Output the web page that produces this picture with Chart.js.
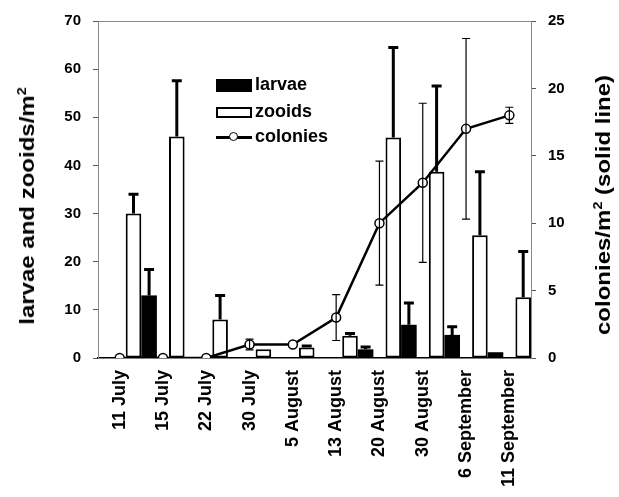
<!DOCTYPE html>
<html>
<head>
<meta charset="utf-8">
<title>Larvae, zooids and colonies per m2</title>
<script src="https://cdn.jsdelivr.net/npm/chart.js@4.4.1/dist/chart.umd.min.js"></script>
<style>
  body { margin: 0; background: #fff; }
  #wrap { position: relative; width: 619px; height: 497px; font-family: 'Liberation Sans', Arial, sans-serif; font-weight: bold; color: #000; }
  #wrap canvas { position: absolute; left: 0; top: 0; }
  .ytitle { position: absolute; white-space: nowrap; font-size: 20px; line-height: 22px; transform: translate(-50%, -50%) rotate(-90deg) scaleX(1.2); }
  .ytitle sup { font-size: 0.6em; vertical-align: 0.7em; line-height: 0; }
  .leg { position: absolute; left: 216px; height: 24px; line-height: 24px; font-size: 18px; white-space: nowrap; }
  .sw { display: inline-block; width: 36px; vertical-align: middle; margin-right: 3px; position: relative; box-sizing: border-box; }
</style>
</head>
<body>
<div id="wrap">
  <canvas id="chart"></canvas>
  <div class="ytitle" style="left:27px; top:206px">larvae and zooids/m<sup>2</sup></div>
  <div class="ytitle" style="left:603px; top:205px">colonies/m<sup>2</sup> (solid line)</div>
  <div class="leg" style="top:72px"><span class="sw" style="height:13px; background:#000"></span>larvae</div>
  <div class="leg" style="top:99px"><span class="sw" style="height:11px; border:2px solid #000; background:#fff"></span>zooids</div>
  <div class="leg" style="top:124px"><span class="sw" style="height:12px">
    <span style="position:absolute; left:0; right:0; top:5px; height:2.5px; background:#000"></span>
    <span style="position:absolute; left:13px; top:1px; width:7px; height:7px; border:1.5px solid #000; border-radius:50%; background:#fff"></span>
  </span>colonies</div>
</div>
<script>
const labels = ['11 July', '15 July', '22 July', '30 July', '5 August', '13 August', '20 August', '30 August', '6 September', '11 September'];
const zooids = [30, 46, 8, 1.8, 2.2, 4.6, 45.8, 38.7, 25.5, 12.6];
const zooidsErr = [4, 11.6, 5, 0, 0.3, 0.5, 18.7, 17.8, 13.2, 9.5];
const larvae = [13, 0, 0, 0, 0, 1.8, 6.9, 4.8, 1.2, 0];
const larvaeErr = [5.4, 0, 0, 0, 0, 0.5, 4.5, 1.7, 0, 0];
const colonies = [0, 0, 0, 1, 1, 3, 10, 13, 17, 18];
const coloniesErr = [0, 0, 0, 0.4, 0, 1.7, 4.6, 5.9, 6.7, 0.6];
const leftTicks = [0, 10, 20, 30, 40, 50, 60, 70];
const rightTicks = [0, 5, 10, 15, 20, 25];

// bars are drawn half a category to the right of each sampling date
const barShift = 0.5;

Chart.defaults.font.family = "'Liberation Sans', Arial, sans-serif";
Chart.defaults.font.weight = 'bold';
Chart.defaults.color = '#000';

const errorBars = {
  id: 'errorBars',
  afterDatasetsDraw(chart) {
    const ctx = chart.ctx;
    ctx.save();
    ctx.strokeStyle = '#000';
    chart.data.datasets.forEach((ds, di) => {
      const meta = chart.getDatasetMeta(di);
      const scale = chart.scales[ds.yAxisID];
      meta.data.forEach((el, i) => {
        const err = ds.errors[i];
        if (!err) return;
        const v = ds.data[i].y;
        const top = scale.getPixelForValue(v + err);
        const bottom = ds.type === 'line' ? scale.getPixelForValue(v - err) : el.y;
        const cap = ds.type === 'line' ? 4 : 5;
        ctx.lineWidth = ds.type === 'line' ? 1.2 : 3;
        ctx.beginPath();
        ctx.moveTo(el.x, top);
        ctx.lineTo(el.x, bottom);
        ctx.moveTo(el.x - cap, top);
        ctx.lineTo(el.x + cap, top);
        if (ds.type === 'line') {
          ctx.moveTo(el.x - cap, bottom);
          ctx.lineTo(el.x + cap, bottom);
        }
        ctx.stroke();
      });
    });
    ctx.restore();
  }
};

const dashedBorder = { display: true, color: '#8a8a8a', width: 1, dash: [5, 4] };

new Chart(document.getElementById('chart'), {
  type: 'bar',
  data: {
    datasets: [
      {
        type: 'line', label: 'colonies', yAxisID: 'y1', order: 0,
        data: colonies.map((v, i) => ({ x: i, y: v })), errors: coloniesErr,
        borderColor: '#000', borderWidth: 2.5, pointRadius: 4.5, pointBorderWidth: 1.5,
        pointBackgroundColor: '#fff', pointBorderColor: '#000', tension: 0,
      },
      {
        label: 'zooids', yAxisID: 'y', order: 1,
        data: zooids.map((v, i) => ({ x: i + barShift, y: v })), errors: zooidsErr,
        backgroundColor: '#fff', borderColor: '#000', borderWidth: 2, borderSkipped: false,
        categoryPercentage: 0.72, barPercentage: 1,
      },
      {
        label: 'larvae', yAxisID: 'y', order: 2,
        data: larvae.map((v, i) => ({ x: i + barShift, y: v })), errors: larvaeErr,
        backgroundColor: '#000', borderWidth: 0,
        categoryPercentage: 0.72, barPercentage: 1,
      },
    ],
  },
  options: {
    responsive: true,
    maintainAspectRatio: false,
    animation: false,
    layout: { padding: 0 },
    plugins: { legend: { display: false }, tooltip: { enabled: false } },
    scales: {
      x: {
        type: 'linear', min: -0.5, max: 9.5, offset: false,
        afterBuildTicks: s => { s.ticks = labels.map((_, i) => ({ value: i })); },
        afterFit: s => { s.height = 139; },
        ticks: { callback: v => labels[v], minRotation: 90, maxRotation: 90, autoSkip: false, padding: 4, font: { size: 18 } },
        grid: { display: false, offset: false },
        border: { display: true, color: '#000', width: 1.5 },
      },
      top: {
        type: 'linear', position: 'top', min: 0, max: 1,
        afterFit: s => { s.height = 21; },
        ticks: { display: false },
        grid: { drawOnChartArea: false, drawTicks: false },
        border: dashedBorder,
      },
      y: {
        position: 'left', min: 0, max: 70,
        afterBuildTicks: s => { s.ticks = leftTicks.map(v => ({ value: v })); },
        afterFit: s => { s.width = 98; },
        ticks: { padding: 12, font: { size: 15 } },
        grid: { drawOnChartArea: false, tickLength: 5, color: '#555' },
        border: dashedBorder,
      },
      y1: {
        position: 'right', min: 0, max: 25,
        afterBuildTicks: s => { s.ticks = rightTicks.map(v => ({ value: v })); },
        afterFit: s => { s.width = 88; },
        ticks: { padding: 12, font: { size: 15 } },
        grid: { drawOnChartArea: false, tickLength: 5, color: '#555' },
        border: dashedBorder,
      },
    },
  },
  plugins: [errorBars],
});
</script>
</body>
</html>
